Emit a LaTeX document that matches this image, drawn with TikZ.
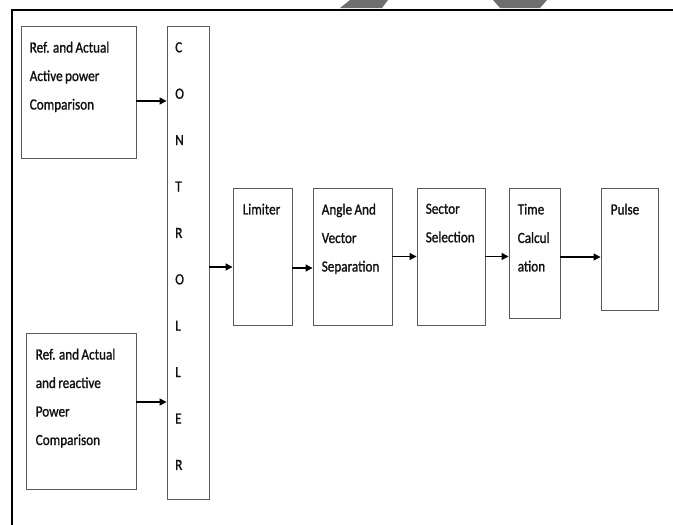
\documentclass[tikz,border=0pt]{standalone}
\usepackage{fontspec}
\setmainfont{Carlito}[FakeStretch=0.85,FakeBold=1.2,WordSpace=0.8]
\usetikzlibrary{arrows.meta,calc}
\definecolor{edge}{HTML}{5A5A5A}
\definecolor{ink}{HTML}{111111}
\definecolor{smudge}{HTML}{6E6E6E}

\begin{document}
\begin{tikzpicture}[
  x=1pt,y=1pt,font=\fontsize{15.5}{28.5}\selectfont,
  block/.style={draw=edge,line width=.9pt,inner sep=0pt},
  txt/.style={anchor=north west,align=left,inner sep=0pt,text=ink},
  flow/.style={draw=black,line width=1.2pt,-{Triangle[length=7pt,width=7pt]}}
]
\path[use as bounding box] (0,0) rectangle (673,-525);
% page frame and grey marks along the top
\fill[smudge] (340,-8) -- (382,-8) -- (388,0) -- (350,0) -- cycle;
\fill[smudge] (500,-8) -- (540,-8) -- (547,0) -- (493,0) -- cycle;
\draw[line width=2pt] (12,-525) -- (12,-9.5) -- (673,-9.5);

% inputs and controller
\node[block,minimum width=115pt,minimum height=132pt] (active) at (78.5,-92) {};
\node[txt] at ([xshift=9pt,yshift=-16pt]active.north west)
  {Ref. and Actual\\Active power\\Comparison};
\node[block,minimum width=110pt,minimum height=156pt] (reactive) at (81,-411) {};
\node[txt] at ([xshift=10pt,yshift=-16pt]reactive.north west)
  {Ref. and Actual\\and reactive\\Power\\Comparison};
\node[block,minimum width=42pt,minimum height=473pt] (ctrl) at (188,-262.5) {};
\node[txt,font=\fontsize{15.5}{46.4}\selectfont]
  at ([xshift=8.5pt,yshift=-16.5pt]ctrl.north west)
  {C\\O\\N\\T\\R\\O\\L\\L\\E\\R};
\draw[flow] ([yshift=-9pt]active.east) -- ([yshift=-9pt]active.east -| ctrl.west);
\draw[flow] ([yshift=9pt]reactive.east) -- ([yshift=9pt]reactive.east -| ctrl.west);

% chain
\node[block,minimum width=59pt,minimum height=137pt] (limiter) at (262.5,-256.5) {};
\node[txt] at ([xshift=10pt,yshift=-16pt]limiter.north west) {Limiter};
\node[block,minimum width=79pt,minimum height=137pt] (angle) at (352.5,-256.5) {};
\node[txt] at ([xshift=9pt,yshift=-16pt]angle.north west)
  {Angle And\\Vector\\Separation};
\node[block,minimum width=68pt,minimum height=137pt] (sector) at (451,-256.5) {};
\node[txt] at ([xshift=9pt,yshift=-16pt]sector.north west) {Sector\\Selection};
\node[block,minimum width=51pt,minimum height=130pt] (time) at (534.5,-253) {};
\node[txt] at ([xshift=9pt,yshift=-16pt]time.north west) {Time\\Calcul\\ation};
\node[block,minimum width=57pt,minimum height=122pt] (pulse) at (629.5,-249) {};
\node[txt] at ([xshift=10pt,yshift=-16pt]pulse.north west) {Pulse};

\draw[flow] ([yshift=-10.5pt]limiter.west -| ctrl.east) -- ([yshift=-10.5pt]limiter.west);
\draw[flow] ([yshift=-11.5pt]limiter.east) -- ([yshift=-11.5pt]limiter.east -| angle.west);
\draw[flow] (angle.east) -- (angle.east -| sector.west);
\draw[flow] (sector.east) -- (sector.east -| time.west);
\draw[flow] ([yshift=-4pt]time.east) -- ([yshift=-4pt]time.east -| pulse.west);
\end{tikzpicture}
\end{document}
